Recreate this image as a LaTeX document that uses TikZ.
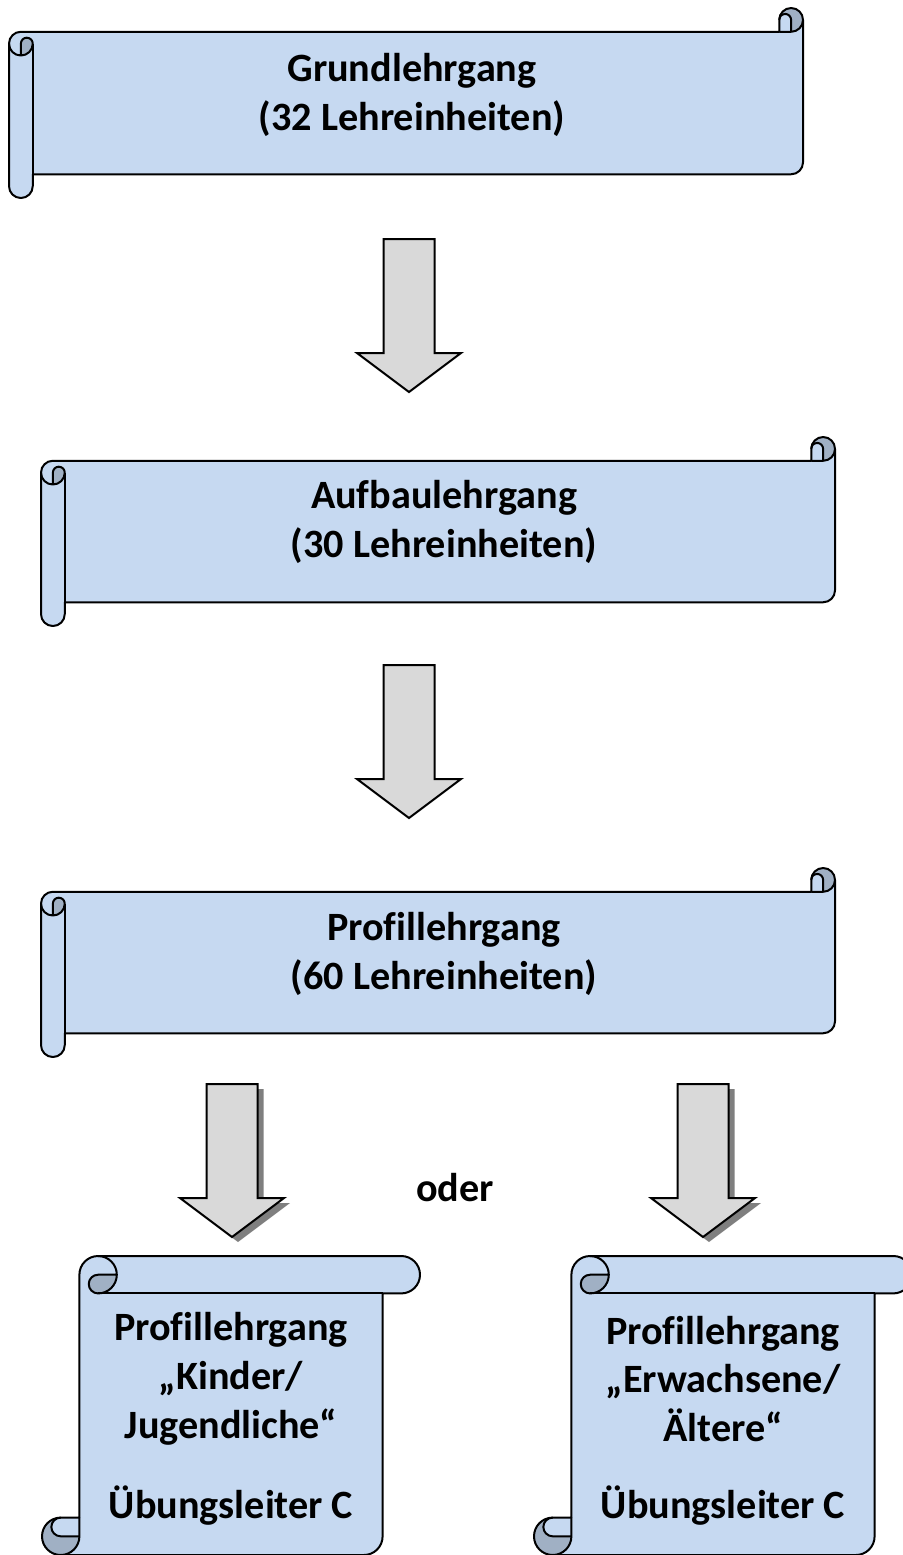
\documentclass[tikz,border=0pt]{standalone}
\usepackage{fontspec}
\setmainfont{Carlito}[Ligatures=NoCommon]
\usepackage{tikz}
\usetikzlibrary{calc}

\definecolor{scrollblue}{HTML}{C6D9F1}
\definecolor{scrolldark}{HTML}{A0B0C4}
\definecolor{arrowgray}{HTML}{D9D9D9}
\definecolor{shadowgray}{HTML}{7F7F7F}

\tikzset{
  scrollline/.style={draw=black, line width=1pt, line join=round},
  arrowbox/.style={fill=arrowgray, draw=black, line width=1pt},
  lehrtext/.style={font=\bfseries\fontsize{20.1}{24.4}\selectfont, align=center, inner sep=0pt},
}

% scroll: width, height, curl size (local units, y down)
\newcommand{\scrollshape}[3]{%
  \pgfmathsetmacro{\rc}{#3}
  \pgfmathsetmacro{\rh}{#3/2}
  \pgfmathsetmacro{\rq}{#3/4}
  \def\scrollmain{(0,\rc+\rh) arc[start angle=180, end angle=270, radius=\rh]
    -- (#1-\rc,\rc) -- (#1-\rc,\rh) arc[start angle=180, end angle=360, radius=\rh]
    -- (#1,#2-\rc-\rh) arc[start angle=0, end angle=90, radius=\rh]
    -- (\rc,#2-\rc) -- (\rc,#2-\rh) arc[start angle=0, end angle=180, radius=\rh] -- cycle}
  \fill[scrollblue] \scrollmain;
  \fill[scrolldark] (#1-\rh,\rc) arc[start angle=90, end angle=-180, radius=\rh]
    arc[start angle=180, end angle=360, radius=\rq] -- cycle;
  \fill[scrolldark] (\rh,2*\rc) arc[start angle=90, end angle=0, radius=\rh]
    arc[start angle=0, end angle=-180, radius=\rq] -- cycle;
  \path[scrollline] \scrollmain;
  \draw[scrollline] (#1-\rc,\rc) -- (#1-\rh,\rc) arc[start angle=90, end angle=0, radius=\rh];
  \draw[scrollline] (#1-\rh,\rc) -- (#1-\rh,\rh) arc[start angle=0, end angle=-180, radius=\rq];
  \draw[scrollline] (\rh,2*\rc) -- (\rh,\rc+\rh) arc[start angle=180, end angle=360, radius=\rq]
    arc[start angle=0, end angle=180, radius=\rh];
  \draw[scrollline] (\rc,\rc+\rh) -- (\rc,#2-\rc);
}

\newcommand{\blockarrow}[1]{%
  \filldraw[arrowbox, shift={(#1)}] (-25.5,0) -- (25.5,0) -- (25.5,114) -- (52,114)
    -- (0,153) -- (-52,114) -- (-25.5,114) -- cycle;}
\newcommand{\blockshadow}[1]{%
  \fill[shadowgray, shift={(#1)}, shift={(6,5)}] (-25.5,0) -- (25.5,0) -- (25.5,114) -- (52,114)
    -- (0,153) -- (-52,114) -- (-25.5,114) -- cycle;}

\begin{document}
\begin{tikzpicture}[x=0.5pt, y=-0.5pt]
\clip (0,0) rectangle (903,1555);

% horizontal scrolls
\begin{scope}[shift={(9,8)}]
  \scrollshape{794}{190}{23.75}
\end{scope}
\begin{scope}[shift={(41,437)}]
  \scrollshape{794}{189}{23.75}
\end{scope}
\begin{scope}[shift={(41,868)}]
  \scrollshape{794}{189}{23.75}
\end{scope}

% vertical scrolls
\begin{scope}[shift={(42,1256)}, x={(0pt,-0.5pt)}, y={(0.5pt,0pt)}]
  \scrollshape{299}{378}{37.4}
\end{scope}
\begin{scope}[shift={(534,1256)}, x={(0pt,-0.5pt)}, y={(0.5pt,0pt)}]
  \scrollshape{299}{378}{37.4}
\end{scope}

\node[lehrtext] (grund) at (412,95) {Grundlehrgang\\(32 Lehreinheiten)};
\node[lehrtext] (aufbau) at (444,522) {Aufbaulehrgang\\(30 Lehreinheiten)};
\node[lehrtext] (profil) at (444,954) {Profillehrgang\\(60 Lehreinheiten)};
\node[lehrtext] (kinder) at (231,1379) {Profillehrgang\\„Kinder/\\Jugendliche“};
\node[lehrtext] (kinderul) at (231,1506) {Übungsleiter C};
\node[lehrtext] (erwachsene) at (723,1379) {Profillehrgang\\„Erwachsene/\\Ältere“};
\node[lehrtext] (erwachseneul) at (723,1506) {Übungsleiter C};
\node[lehrtext] (oder) at (455,1188) {oder};

% arrows
\coordinate (pfeil1) at (409,239);
\coordinate (pfeil2) at (409,665);
\coordinate (pfeil3) at (232,1084);
\coordinate (pfeil4) at (703,1084);
\blockarrow{pfeil1}
\blockarrow{pfeil2}
\blockshadow{pfeil3}
\blockshadow{pfeil4}
\blockarrow{pfeil3}
\blockarrow{pfeil4}

\end{tikzpicture}
\end{document}
